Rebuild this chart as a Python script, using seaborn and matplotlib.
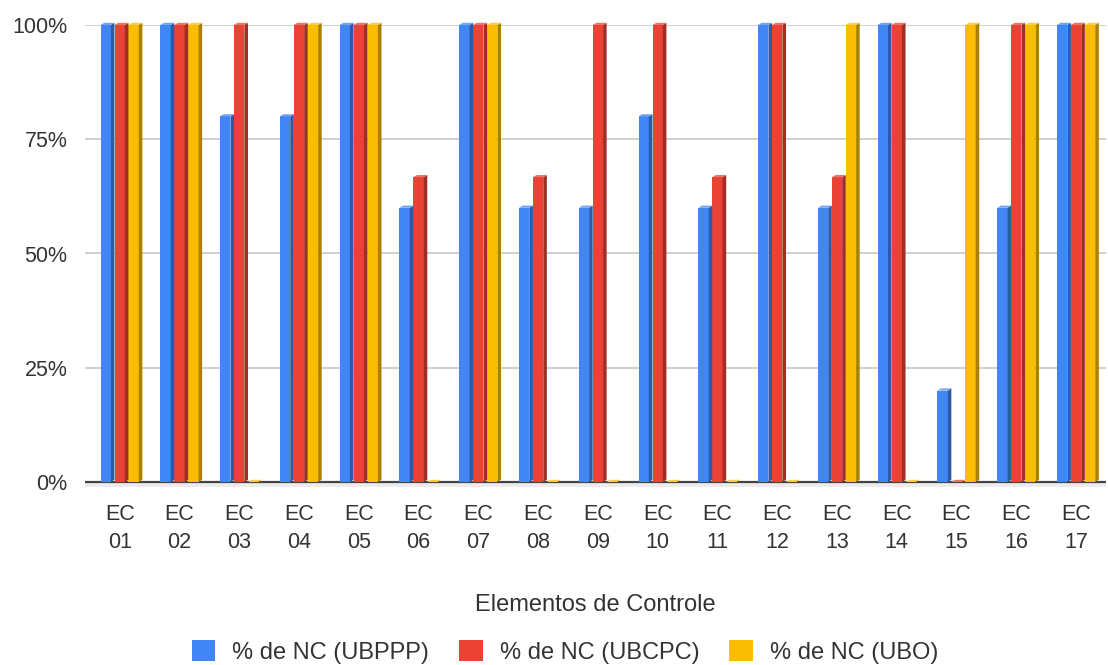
import numpy as np
import pandas as pd
import seaborn as sns
import matplotlib.pyplot as plt
from matplotlib.patches import Polygon, Patch
import matplotlib.colors as mcolors

# --- data ---
categories = [f"EC {i:02d}" for i in range(1, 18)]
ubppp = [100, 100, 80, 80, 100, 60, 100, 60, 60, 80, 60, 100, 60, 100, 20, 60, 100]
ubcpc = [100, 100, 100, 100, 100, 66.7, 100, 66.7, 100, 100, 66.7, 100, 66.7, 100, 0, 100, 100]
ubo = [100, 100, 0, 100, 100, 0, 100, 0, 0, 0, 0, 0, 100, 0, 100, 100, 100]
series_names = ["% de NC (UBPPP)", "% de NC (UBCPC)", "% de NC (UBO)"]
yticks = [0, 25, 50, 75, 100]
colors = ["#4285F4", "#EA4335", "#FBBC04"]

df = pd.DataFrame({
    "cat": categories * 3,
    "serie": sum([[s] * len(categories) for s in series_names], []),
    "val": ubppp + ubcpc + ubo,
})

sns.set_theme(style="white")
plt.rcParams["font.family"] = ["Liberation Sans", "DejaVu Sans"]

W, H = 1108, 665
fig = plt.figure(figsize=(W / 100, H / 100), dpi=100)
y0px, y100px = 482, 25
ymin = -1.2
px_per_unit = (y0px - y100px) / 100
bottom_px = y0px - ymin * px_per_unit
ax = fig.add_axes([85 / W, 1 - bottom_px / H, (1106 - 85) / W, (bottom_px - y100px) / H])

sns.barplot(data=df, x="cat", y="val", hue="serie", palette=colors,
            width=0.7, gap=0.26, saturation=1, ax=ax, legend=False,
            edgecolor="none", linewidth=0, zorder=3)

ax.set_ylim(ymin, 100)
ax.set_xlim(-0.58, 16.5)

# 3D depth: side face and top face for every bar
dx = 3.6 / 60.0          # data units in x (one category ~60 px)
dy = 2.2 / px_per_unit   # data units in y


def shade(c, f):
    r, g, b = mcolors.to_rgb(c)
    return (r * f, g * f, b * f)


def tint(c, f):
    r, g, b = mcolors.to_rgb(c)
    return (r + (1 - r) * f, g + (1 - g) * f, b + (1 - b) * f)


for bar in list(ax.patches):
    x, w, h = bar.get_x(), bar.get_width(), bar.get_height()
    col = bar.get_facecolor()
    side = Polygon([(x + w, 0), (x + w + dx, dy), (x + w + dx, h + dy), (x + w, h)],
                   closed=True, facecolor=shade(col, 0.68), edgecolor="none",
                   zorder=3, clip_on=False)
    top = Polygon([(x, h), (x + dx, h + dy), (x + w + dx, h + dy), (x + w, h)],
                  closed=True, facecolor=tint(col, 0.25), edgecolor="none",
                  zorder=3.1, clip_on=False)
    ax.add_patch(side)
    ax.add_patch(top)

# grid and baseline
for t in yticks[1:]:
    ax.axhline(t, color="#d0d0d0", lw=1.4, zorder=1)
ax.axhspan(ymin, 0, color="#ececec", lw=0, zorder=1)
ax.axhline(0, color="#444444", lw=1.6, zorder=2)

for s in ax.spines.values():
    s.set_visible(False)

ax.set_yticks(yticks)
ax.set_yticklabels([f"{t}%" for t in yticks])
ax.set_xticks(range(len(categories)))
ax.set_xticklabels([c.replace(" ", "\n") for c in categories], linespacing=1.4)
ax.tick_params(axis="y", length=0, pad=12.7, labelsize=15.5, labelcolor="#333333")
ax.tick_params(axis="x", length=0, pad=12, labelsize=15.5, labelcolor="#333333")
ax.set_ylabel("")
ax.set_xlabel("Elementos de Controle", fontsize=17, color="#333333", labelpad=30)

handles = [Patch(facecolor=c, edgecolor="none") for c in colors]
fig.legend(handles, series_names, loc="center", bbox_to_anchor=(565 / W, 1 - 652 / H),
           ncol=3, frameon=False, fontsize=17, handlelength=1.0, handleheight=1.0,
           handletextpad=0.72, columnspacing=1.27, labelcolor="#333333",
           borderpad=0.2)

fig.savefig("out.png", dpi=100)
